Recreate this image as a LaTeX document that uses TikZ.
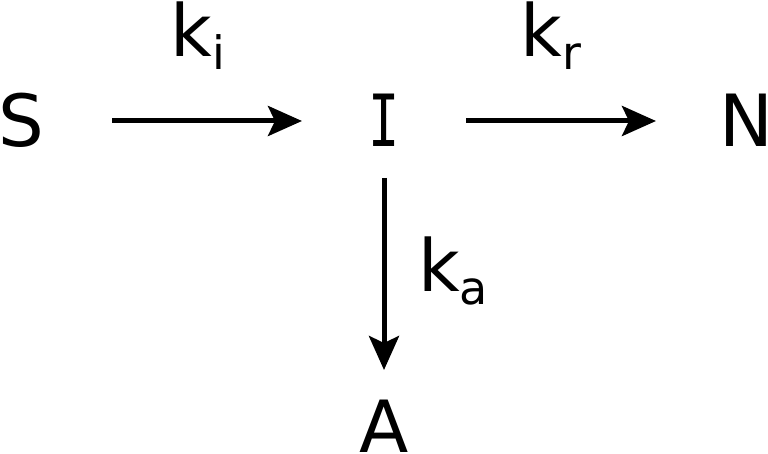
\documentclass[tikz,border=0pt]{standalone}
\usepackage{fontspec}
\setmainfont{DejaVu Sans}
\newfontfamily\monof{DejaVu Sans Mono}
\usetikzlibrary{arrows.meta}
\tikzset{
  species/.style={inner sep=0pt, font=\fontsize{72}{72}\selectfont, text height=52pt, text depth=0pt, anchor=center},
  rate/.style={inner sep=0pt, font=\fontsize{72}{72}\selectfont, anchor=base},
  arr/.style={line width=5pt, -{Stealth[length=34pt,width=30pt,inset=7pt]}}
}
\newcommand{\sbs}[1]{\raisebox{-13pt}{\fontsize{46}{46}\selectfont #1}}
\begin{document}
\begin{tikzpicture}[x=1pt,y=-1pt]
\useasboundingbox (0,0) rectangle (768,454);
\node[species] (S) at (21,121) {S};
\node[species] (I) at (384,121) {\scalebox{0.72}[1]{\monof I}};
\node[species] (N) at (746,121) {N};
\node[species] (A) at (384,426) {A};
\node[rate] (ki) at (198,57) {k\sbs{i}};
\node[rate] (kr) at (551,57) {k\sbs{r}};
\node[rate] (ka) at (453,291) {k\sbs{a}};
\draw[arr, shorten <=91pt, shorten >=82pt] (S.center) -- (I.center);
\draw[arr, shorten <=82pt, shorten >=90pt] (I.center) -- (N.center);
\draw[arr, shorten <=57pt, shorten >=56pt] (I.center) -- (A.center);
\end{tikzpicture}
\end{document}
